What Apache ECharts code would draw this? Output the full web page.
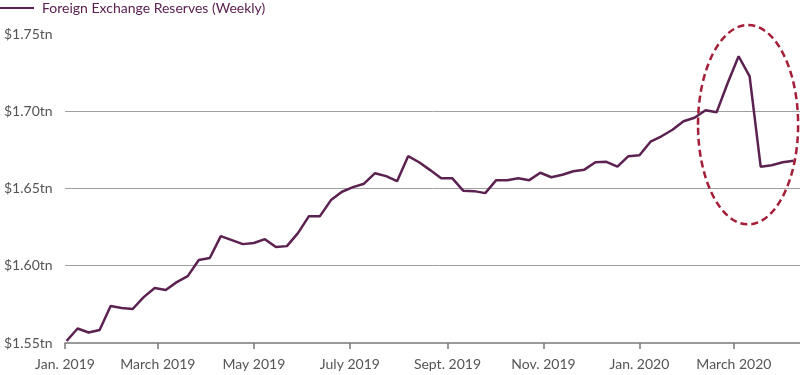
<!DOCTYPE html>
<html>
<head>
<meta charset="utf-8">
<script src="https://cdn.jsdelivr.net/npm/echarts@6/dist/echarts.min.js"></script>
<style>
html,body{margin:0;padding:0;background:#fff;}
#chart{width:800px;height:375px;}
</style>
</head>
<body>
<div id="chart"></div>
<script>
// ---- data ----
const seriesName = 'Foreign Exchange Reserves (Weekly)';
const weekDates = [
 '2019-01-02','2019-01-09','2019-01-16','2019-01-23','2019-01-30',
 '2019-02-06','2019-02-13','2019-02-20','2019-02-27',
 '2019-03-06','2019-03-13','2019-03-20','2019-03-27',
 '2019-04-03','2019-04-10','2019-04-17','2019-04-24',
 '2019-05-01','2019-05-08','2019-05-15','2019-05-22','2019-05-29',
 '2019-06-05','2019-06-12','2019-06-19','2019-06-26',
 '2019-07-03','2019-07-10','2019-07-17','2019-07-24','2019-07-31',
 '2019-08-07','2019-08-14','2019-08-21','2019-08-28',
 '2019-09-04','2019-09-11','2019-09-18','2019-09-25',
 '2019-10-02','2019-10-09','2019-10-16','2019-10-23','2019-10-30',
 '2019-11-06','2019-11-13','2019-11-20','2019-11-27',
 '2019-12-04','2019-12-11','2019-12-18','2019-12-25',
 '2020-01-01','2020-01-08','2020-01-15','2020-01-22','2020-01-29',
 '2020-02-05','2020-02-12','2020-02-19','2020-02-26',
 '2020-03-04','2020-03-11','2020-03-18','2020-03-25',
 '2020-04-01','2020-04-08'
];
const reservesTn = [
 1.5513,1.5594,1.5568,1.5584,1.5739,
 1.5726,1.5720,1.5797,1.5856,
 1.5843,1.5894,1.5933,1.6037,
 1.6050,1.6192,1.6166,1.6140,
 1.6147,1.6172,1.6121,1.6127,1.6211,
 1.6321,1.6321,1.6425,1.6479,
 1.6509,1.6531,1.6599,1.6580,1.6547,
 1.6709,1.6670,1.6619,1.6567,
 1.6567,1.6486,1.6483,1.6470,
 1.6554,1.6554,1.6567,1.6554,1.6602,
 1.6573,1.6589,1.6612,1.6622,
 1.6670,1.6673,1.6641,1.6709,
 1.6715,1.6803,1.6838,1.6880,1.6935,
 1.6958,1.7006,1.6993,1.7181,
 1.7356,1.7226,1.6641,1.6651,
 1.6670,1.6679
];
const xTickDates = ['2019-01-01','2019-03-01','2019-05-01','2019-07-01','2019-09-01','2019-11-01','2020-01-01','2020-03-01'];
const xTickLabels = ['Jan. 2019','March 2019','May 2019','July 2019','Sept. 2019','Nov. 2019','Jan. 2020','March 2020'];
const xStart = '2019-01-01';
const xEnd = '2020-04-12';
const yTicks = [1.55, 1.60, 1.65, 1.70, 1.75];
const yTickLabels = ['$1.55tn','$1.60tn','$1.65tn','$1.70tn','$1.75tn'];
// annotation ellipse (data units): centre date, centre value, half-width days, half-height value
const ringCentreDate = '2020-03-10';
const ringCentreValue = 1.6913;
const ringHalfDays = 31.8;
const ringHalfValue = 0.0645;

const DAY = 86400000;
const ts = s => Date.parse(s);
const lineData = weekDates.map((d, i) => [ts(d), reservesTn[i]]);
const xTickValues = xTickDates.map(ts);

const FONT = 'Lato';
const chart = echarts.init(document.getElementById('chart'), null, {renderer: 'canvas'});
chart.setOption({
  animation: false,
  backgroundColor: '#ffffff',
  grid: {left: 65, right: 0, top: 34, bottom: 32, containLabel: false},
  legend: {
    left: 0, top: 1, padding: 0,
    icon: 'rect', itemWidth: 34, itemHeight: 2, itemGap: 10,
    textStyle: {fontFamily: FONT, fontSize: 14, color: '#5b2151', padding: [0, 0, 0, 3]},
    data: [seriesName]
  },
  xAxis: {
    type: 'value',
    min: ts(xStart), max: ts(xEnd),
    axisLine: {show: true, lineStyle: {color: '#7a7a7a', width: 1.5}},
    axisTick: {show: true, customValues: xTickValues, length: 6, lineStyle: {color: '#7a7a7a', width: 1.5}},
    axisLabel: {
      customValues: xTickValues,
      margin: 14,
      fontFamily: FONT, fontSize: 14, color: '#555555',
      formatter: (v) => { const k = xTickValues.indexOf(v); return k >= 0 ? xTickLabels[k] : ''; }
    },
    splitLine: {show: false}
  },
  yAxis: {
    type: 'value',
    min: yTicks[0], max: yTicks[yTicks.length - 1], interval: 0.05,
    axisLine: {show: false},
    axisTick: {show: false},
    axisLabel: {
      align: 'left', margin: 61,
      fontFamily: FONT, fontSize: 14, color: '#555555',
      formatter: (v) => { const k = yTicks.findIndex(t => Math.abs(t - v) < 1e-6); return k >= 0 ? yTickLabels[k] : ''; }
    },
    splitLine: {show: true, showMinLine: false, showMaxLine: false, lineStyle: {color: '#a0a0a0', width: 1}}
  },
  series: [{
    name: seriesName,
    type: 'line',
    data: lineData,
    showSymbol: false,
    symbol: 'none',
    itemStyle: {color: '#5b2151'},
    lineStyle: {color: '#5b2151', width: 2.5},
    z: 3
  }]
});

// dashed ellipse annotation positioned through the axes
const c = chart.convertToPixel({gridIndex: 0}, [ts(ringCentreDate), ringCentreValue]);
const e = chart.convertToPixel({gridIndex: 0}, [ts(ringCentreDate) + ringHalfDays * DAY, ringCentreValue + ringHalfValue]);
chart.setOption({
  graphic: [{
    type: 'ellipse',
    shape: {cx: c[0], cy: c[1], rx: Math.abs(e[0] - c[0]), ry: Math.abs(c[1] - e[1])},
    style: {fill: 'none', stroke: '#a51d36', lineWidth: 2.5, lineDash: [7, 4]},
    z: 10
  }]
});
</script>
</body>
</html>
